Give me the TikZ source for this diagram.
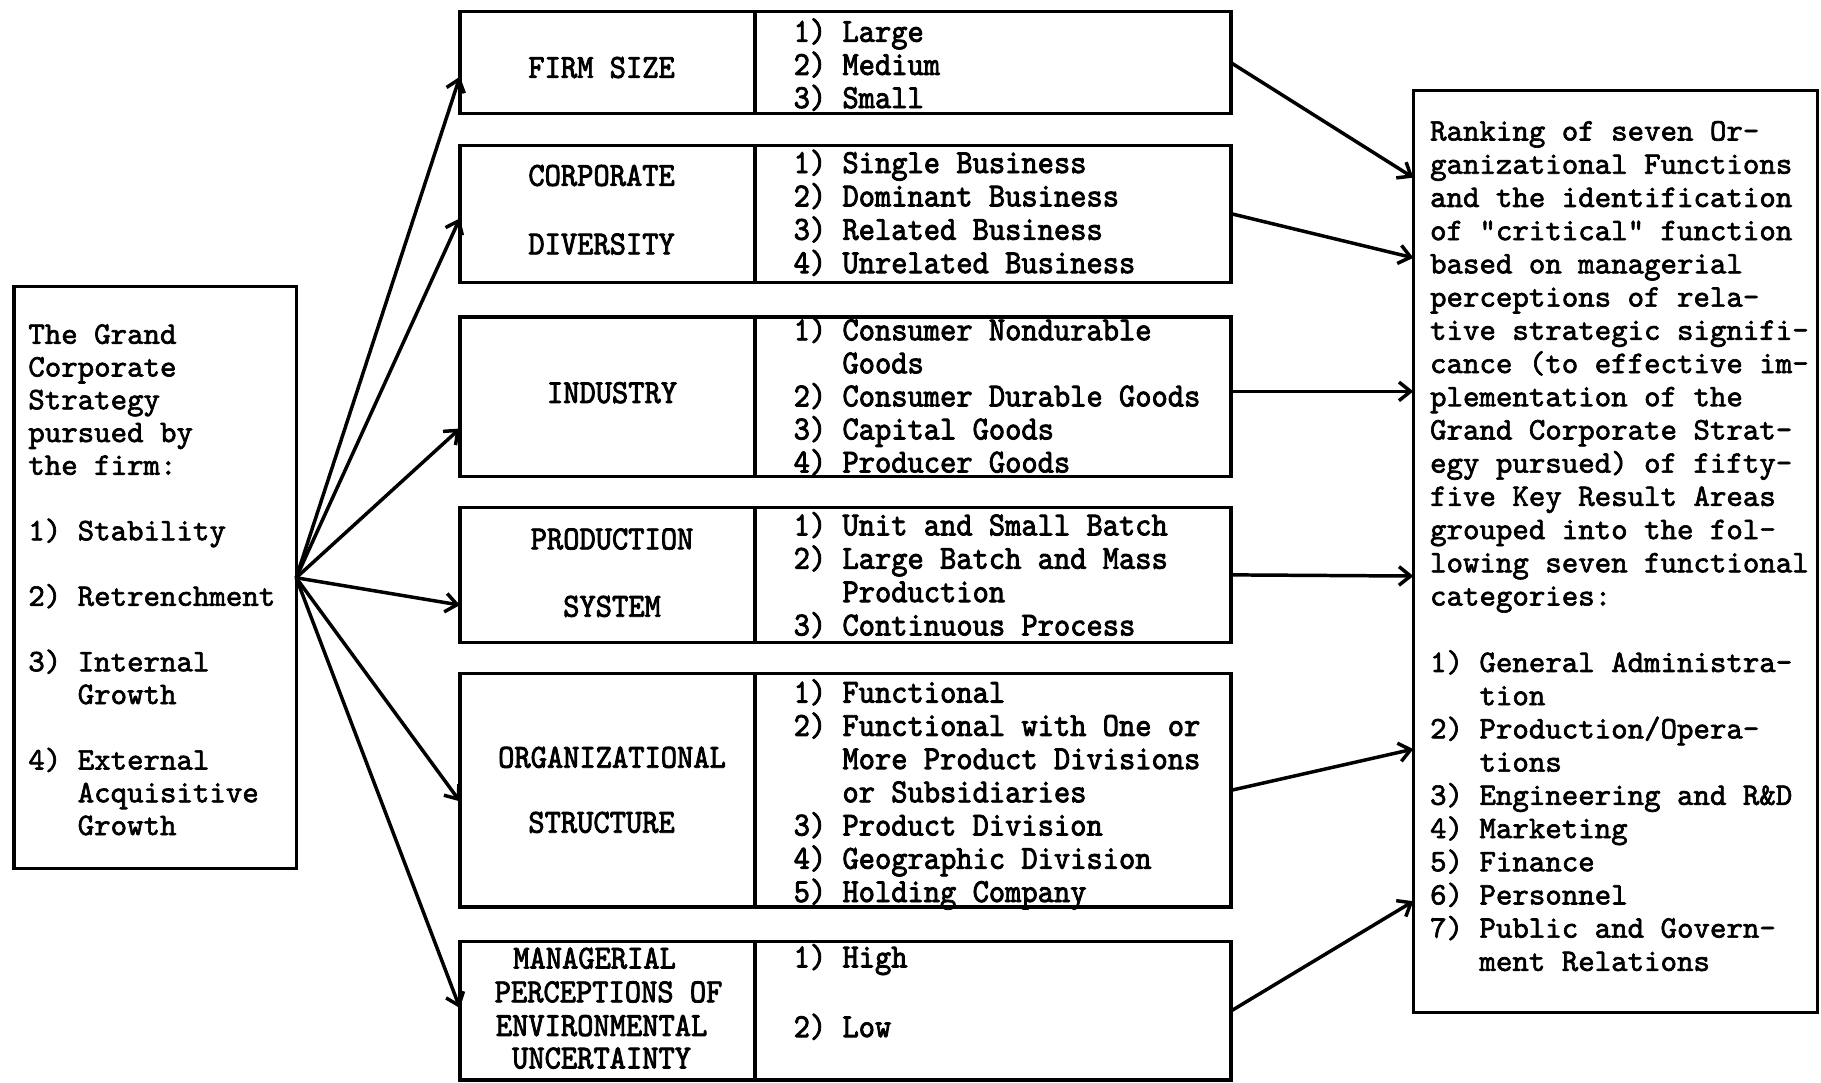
\documentclass[tikz,border=0pt]{standalone}
\usepackage{fontspec}
\usetikzlibrary{arrows.meta,fit}
% typewriter faces: plain pitch for the side boxes, narrow pitch for the factor table
\newfontfamily\typer[FakeBold=2,Ligatures=TeXOff]{lmmono10-regular.otf}
\newfontfamily\gothic[FakeBold=2.4,FakeStretch=0.92,Ligatures=TeXOff]{lmmono10-regular.otf}
\newcommand\itempad{\phantom{0)~}}

\begin{document}
\begin{tikzpicture}[x=0.5pt,y=-0.5pt,
  boxframe/.style={draw, line width=1.4pt, inner sep=0pt, outer sep=0pt},
  divrule/.style={line width=1.4pt},
  conn/.style={line width=1.5pt, -{Straight Barb[length=5pt,width=8pt]}},
  sidetext/.style={anchor=base west, inner sep=0pt, font={\typer\fontsize{13.5}{#1}\selectfont}},
  itemtext/.style={anchor=base west, inner sep=0pt, font={\gothic\fontsize{14.5}{#1}\selectfont}},
  factortext/.style={anchor=base, inner sep=0pt, font={\gothic\fontsize{14.5}{16}\selectfont}},
]
\useasboundingbox[fill=white] (0,0) rectangle (1568,932);

% ---- boxes ----
\node[boxframe, fit={(12,247)(255,748)}] (strat) {};
\node[boxframe, fit={(396,10)(1060,98)}] (fsize) {};
\node[boxframe, fit={(396,125)(1060,243)}] (cdiv) {};
\node[boxframe, fit={(396,273)(1060,410)}] (ind) {};
\node[boxframe, fit={(396,437)(1060,553)}] (prod) {};
\node[boxframe, fit={(396,580)(1060,781)}] (org) {};
\node[boxframe, fit={(396,811)(1060,930)}] (env) {};
\node[boxframe, fit={(1217,78)(1565,872)}] (rank) {};

% column rule inside each factor box
\coordinate (div) at (650,0);
\foreach \b in {fsize,cdiv,ind,prod,org,env}
  \draw[divrule] (\b.north -| div) -- (\b.south -| div);

% ---- strategy box ----
\node[sidetext=14.1pt] (strattxt) at (24,296) {\begin{tabular}[t]{@{}l@{}}
The Grand\\ Corporate\\ Strategy\\ pursued by\\ the firm:\\ \\
1) Stability\\ \\ 2) Retrenchment\\ \\ 3) Internal\\ \itempad Growth\\ \\
4) External\\ \itempad Acquisitive\\ \itempad Growth
\end{tabular}};

% ---- factor names ----
\node[factortext] (fsizename) at (518,67) {FIRM SIZE};
\node[factortext] (cdivname1) at (518,160) {CORPORATE};
\node[factortext] (cdivname2) at (518,219) {DIVERSITY};
\node[factortext] (indname) at (527,347) {INDUSTRY};
\node[factortext] (prodname1) at (527,473) {PRODUCTION};
\node[factortext] (prodname2) at (527,531) {SYSTEM};
\node[factortext] (orgname1) at (527,661) {ORGANIZATIONAL};
\node[factortext] (orgname2) at (518,717) {STRUCTURE};
\node[factortext] (envname1) at (512,834) {MANAGERIAL};
\node[factortext] (envname2) at (524,863) {PERCEPTIONS OF};
\node[factortext] (envname3) at (518,892) {ENVIRONMENTAL};
\node[factortext] (envname4) at (518,920) {UNCERTAINTY};

% ---- factor categories ----
\node[itemtext=14pt] (fsizeitems) at (683,36) {\begin{tabular}[t]{@{}l@{}}
1) Large\\ 2) Medium\\ 3) Small
\end{tabular}};
\node[itemtext=14.35pt] (cdivitems) at (683,149) {\begin{tabular}[t]{@{}l@{}}
1) Single Business\\ 2) Dominant Business\\ 3) Related Business\\ 4) Unrelated Business
\end{tabular}};
\node[itemtext=13.9pt] (inditems) at (683,293) {\begin{tabular}[t]{@{}l@{}}
1) Consumer Nondurable\\ \itempad Goods\\ 2) Consumer Durable Goods\\ 3) Capital Goods\\ 4) Producer Goods
\end{tabular}};
\node[itemtext=14.35pt] (proditems) at (683,461) {\begin{tabular}[t]{@{}l@{}}
1) Unit and Small Batch\\ 2) Large Batch and Mass\\ \itempad Production\\ 3) Continuous Process
\end{tabular}};
\node[itemtext=14.15pt] (orgitems) at (683,605) {\begin{tabular}[t]{@{}l@{}}
1) Functional\\ 2) Functional with One or\\ \itempad More Product Divisions\\ \itempad or Subsidiaries\\
3) Product Division\\ 4) Geographic Division\\ 5) Holding Company
\end{tabular}};
\node[itemtext=15pt] (envitems) at (683,833) {\begin{tabular}[t]{@{}l@{}}
1) High\\ \\ 2) Low
\end{tabular}};

% ---- ranking box ----
\node[sidetext=14.3pt] (ranktxt) at (1231,121) {\begin{tabular}[t]{@{}l@{}}
Ranking of seven Or-\\ ganizational Functions\\ and the identification\\
of "critical" function\\ based on managerial\\ perceptions of rela-\\
tive strategic signifi-\\ cance (to effective im-\\ plementation of the\\
Grand Corporate Strat-\\ egy pursued) of fifty-\\ five Key Result Areas\\
grouped into the fol-\\ lowing seven functional\\ categories:\\ \\
1) General Administra-\\ \itempad tion\\ 2) Production/Opera-\\ \itempad tions\\
3) Engineering and R\&D\\ 4) Marketing\\ 5) Finance\\ 6) Personnel\\
7) Public and Govern-\\ \itempad ment Relations
\end{tabular}};

% ---- connectors: strategy to each factor ----
\coordinate (a1) at (0,66);
\coordinate (a2) at (0,188);
\coordinate (a3) at (0,369);
\coordinate (a4) at (0,521);
\coordinate (a5) at (0,690);
\coordinate (a6) at (0,868);
\draw[conn] (strat.east) -- (fsize.west |- a1);
\draw[conn] (strat.east) -- (cdiv.west |- a2);
\draw[conn] (strat.east) -- (ind.west |- a3);
\draw[conn] (strat.east) -- (prod.west |- a4);
\draw[conn] (strat.east) -- (org.west |- a5);
\draw[conn] (strat.east) -- (env.west |- a6);

% ---- connectors: each factor to the ranking ----
\coordinate (r1) at (0,153);
\coordinate (r2) at (0,222);
\coordinate (r3) at (0,337);
\coordinate (r4) at (0,496);
\coordinate (r5) at (0,645);
\coordinate (r6) at (0,776);
\coordinate (s3) at (0,337);
\draw[conn] (fsize.east) -- (rank.west |- r1);
\draw[conn] (cdiv.east) -- (rank.west |- r2);
\draw[conn] (ind.east |- s3) -- (rank.west |- r3);
\draw[conn] (prod.east) -- (rank.west |- r4);
\draw[conn] (org.east) -- (rank.west |- r5);
\draw[conn] (env.east) -- (rank.west |- r6);
\end{tikzpicture}
\end{document}
